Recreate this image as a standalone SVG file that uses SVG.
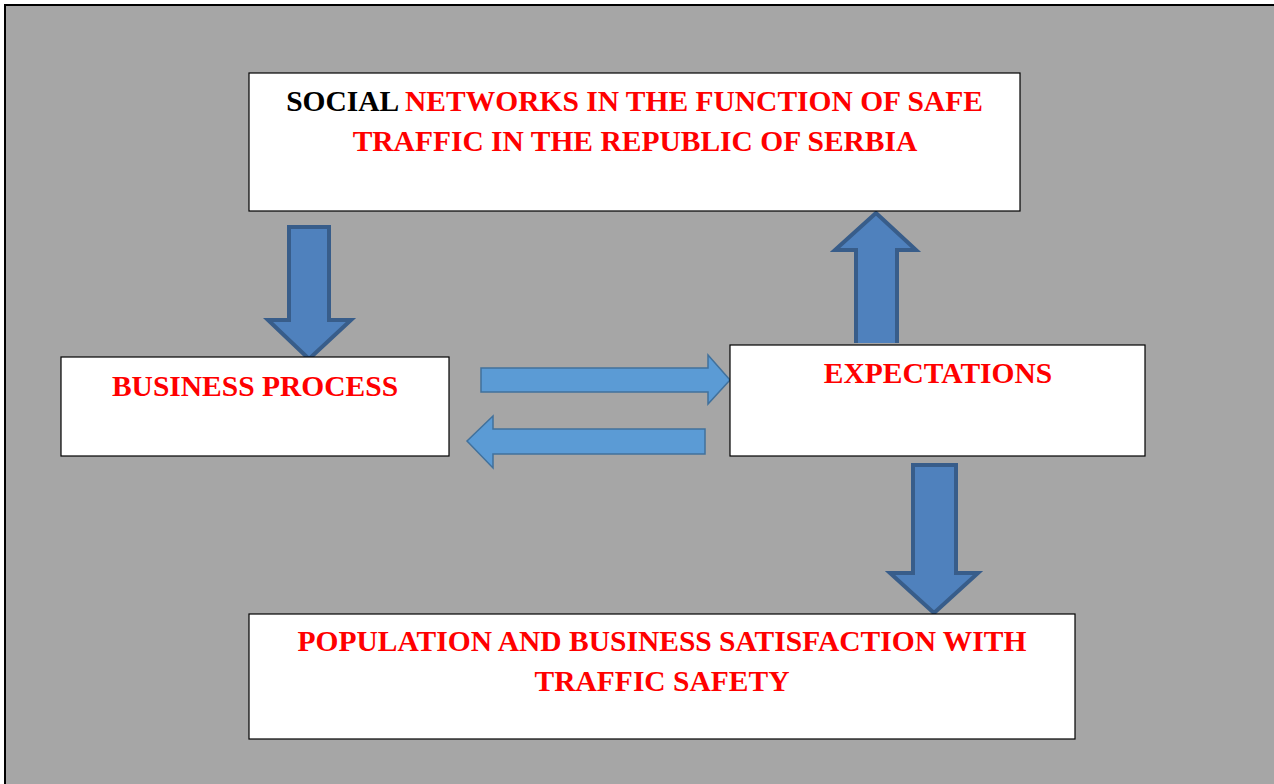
<svg xmlns="http://www.w3.org/2000/svg" width="1274" height="784" viewBox="0 0 1274 784">
<style>
.box{fill:#fff;stroke:#000;stroke-width:1.2}
.t{font-family:"Liberation Serif","Times New Roman",serif;font-weight:bold;font-size:29.5px;fill:#f00;text-anchor:middle}
.blk{fill:#000}
.va{fill:#4F81BD;stroke:#385D8A;stroke-width:4;stroke-linejoin:miter}
.ha{fill:#5B9BD5;stroke:#41719C;stroke-width:1.5}
</style>
<rect x="0" y="0" width="1274" height="784" fill="#fff"/>
<rect x="5" y="5" width="1290" height="800" fill="#A6A6A6" stroke="#000" stroke-width="2"/>
<g id="connectors">
<path class="va" d="M289,227 H329 V320 H351 L309,359 L268,320 H289 Z"/>
<path class="va" d="M856,343 V250 H835 L876,213 L916,250 H897 V343"/>
<path class="va" d="M913,465 H956 V573 H978 L934,613 L890,573 H913 Z"/>
<path class="ha" d="M481,368 H708 V355 L730,380 L708,404 V392 H481 Z"/>
<path class="ha" d="M705,429 H493 V416 L467,441 L493,468 V454 H705 Z"/>
</g>
<g id="top">
<rect class="box" x="249" y="73" width="771" height="138"/>
<text class="t" x="634.5" y="111"><tspan class="blk">SOCIAL</tspan> NETWORKS IN THE FUNCTION OF SAFE</text>
<text class="t" x="635" y="151">TRAFFIC IN THE REPUBLIC OF SERBIA</text>
</g>
<g id="business">
<rect class="box" x="61" y="357" width="388" height="99"/>
<text class="t" x="255" y="396">BUSINESS PROCESS</text>
</g>
<g id="expectations">
<rect class="box" x="730" y="345" width="415" height="111"/>
<text class="t" x="938" y="383">EXPECTATIONS</text>
</g>
<g id="population">
<rect class="box" x="249" y="614" width="826" height="125"/>
<text class="t" x="662" y="651">POPULATION AND BUSINESS SATISFACTION WITH</text>
<text class="t" x="662" y="691">TRAFFIC SAFETY</text>
</g>
</svg>
